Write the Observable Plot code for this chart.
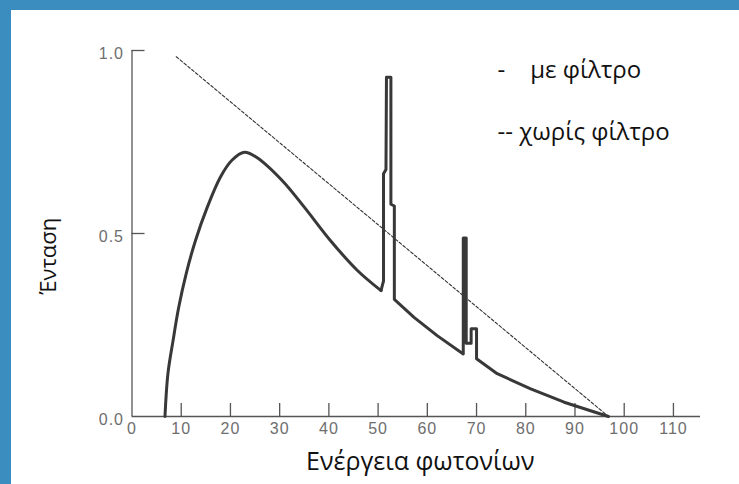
<!DOCTYPE html>
<html><head><meta charset="utf-8">
<script src="https://cdn.jsdelivr.net/npm/d3@7"></script>
<script src="https://cdn.jsdelivr.net/npm/@observablehq/plot@0.6"></script>
<style>
html,body{margin:0;padding:0;background:#fff;}
#wrap{position:relative;width:739px;height:484px;overflow:hidden;background:#fff;}
#chart{position:absolute;left:0;top:0;}
#frame{position:absolute;left:0;top:0;width:739px;height:484px;box-sizing:border-box;border-left:11px solid #3b8dc0;border-top:10px solid #3b8dc0;pointer-events:none;}
</style></head>
<body><div id="wrap"><div id="chart"></div><div id="frame"></div></div>
<script>
// Spectrum with filter (με φίλτρο)
const energyFiltered = [6.7, 7.3, 8.35, 9.5, 11.0, 12.9, 15.3, 18.0, 20.3, 22.8, 25.2, 30.5, 35.0, 40.3, 45.8, 50.6, 50.9, 51.1, 51.1, 51.6, 51.7, 52.6, 52.6, 53.3, 53.3, 57.3, 62.0, 67.3, 67.3, 67.9, 67.9, 68.9, 68.9, 70.0, 70.0, 74.2, 81.0, 87.8, 96.8];
const intensityFiltered = [0, 0.117, 0.208, 0.299, 0.39, 0.481, 0.572, 0.655, 0.70, 0.722, 0.709, 0.645, 0.572, 0.481, 0.399, 0.344, 0.36, 0.37, 0.663, 0.675, 0.927, 0.927, 0.58, 0.575, 0.32, 0.271, 0.221, 0.171, 0.488, 0.488, 0.2, 0.2, 0.24, 0.24, 0.158, 0.117, 0.0756, 0.039, 0];
// index where the smooth continuum ends and the characteristic lines begin
const smoothEnd = 15;
// Spectrum without filter (χωρίς φίλτρο)
const energyUnfiltered = [9.0, 96.8];
const intensityUnfiltered = [0.983, 0];

const xTicks = [0, 10, 20, 30, 40, 50, 60, 70, 80, 90, 100, 110];
const yTicks = [0, 0.5, 1.0];
const xTitle = "Ενέργεια φωτονίων";
const yTitle = "Ένταση";
const legendWith = "-\u00a0\u00a0\u00a0\u00a0με φίλτρο";
const legendWithout = "-- χωρίς φίλτρο";

const filtered = energyFiltered.map((e, i) => ({e, v: intensityFiltered[i], i}));
const unfiltered = energyUnfiltered.map((e, i) => ({e, v: intensityUnfiltered[i]}));

const W = 739, H = 484, mL = 131.5, mR = 39, mT = 50, mB = 68;
const plotW = W - mL - mR, plotH = H - mT - mB, tickLen = 13;
const axisColor = "#555";
const curveColor = "#383838";
const labelFont = "Open Sans, Noto Sans, sans-serif";

const chart = Plot.plot({
  width: W, height: H,
  marginLeft: mL, marginRight: mR, marginTop: mT, marginBottom: mB,
  style: {fontFamily: "Liberation Sans, Arial, sans-serif", fontSize: "16px", background: "transparent"},
  x: {domain: [0, 115.5]},
  y: {domain: [0, 1]},
  marks: [
    Plot.axisX({ticks: xTicks, tickSize: 0, tickPadding: 6, color: "#6e6e6e", label: null}),
    Plot.axisY({ticks: yTicks, tickSize: 0, tickPadding: 8, dy: 3, color: "#6e6e6e", label: null, tickFormat: d3.format(".1f")}),
    Plot.ruleY([0], {stroke: axisColor, strokeWidth: 1.3}),
    Plot.ruleX([0], {stroke: axisColor, strokeWidth: 1.3}),
    Plot.ruleX(xTicks.slice(1), {stroke: axisColor, strokeWidth: 1.3, insetTop: plotH - tickLen}),
    Plot.ruleY(yTicks.slice(1), {stroke: axisColor, strokeWidth: 1.3, insetRight: plotW - tickLen}),
    Plot.line(unfiltered, {x: "e", y: "v", stroke: "#333", strokeWidth: 1.1, strokeDasharray: "3,2"}),
    Plot.line(filtered, {filter: d => d.i <= smoothEnd, x: "e", y: "v", stroke: curveColor, strokeWidth: 3, curve: "catmull-rom", strokeLinecap: "round"}),
    Plot.line(filtered, {filter: d => d.i >= smoothEnd, x: "e", y: "v", stroke: curveColor, strokeWidth: 3, strokeLinecap: "round"}),
    Plot.text([xTitle], {text: d => d, frameAnchor: "bottom", dx: 4, dy: 53, fontSize: 25, fontFamily: labelFont, fill: "#111"}),
    Plot.text([yTitle], {text: d => d, frameAnchor: "left", rotate: -90, dx: -83, dy: 61, fontSize: 22, fontFamily: labelFont, fill: "#111"}),
    Plot.text([legendWith], {text: d => d, frameAnchor: "top-left", textAnchor: "start", dx: 365.5, dy: 10, fontSize: 24, fontFamily: labelFont, fill: "#111"}),
    Plot.text([legendWithout], {text: d => d, frameAnchor: "top-left", textAnchor: "start", dx: 365.5, dy: 72, fontSize: 24, fontFamily: labelFont, fill: "#111"})
  ]
});
d3.select(chart).selectAll('[aria-label="x-axis tick label"] text, [aria-label="y-axis tick label"] text').style("letter-spacing", "1px");
document.getElementById("chart").appendChild(chart);
</script>
</body></html>
